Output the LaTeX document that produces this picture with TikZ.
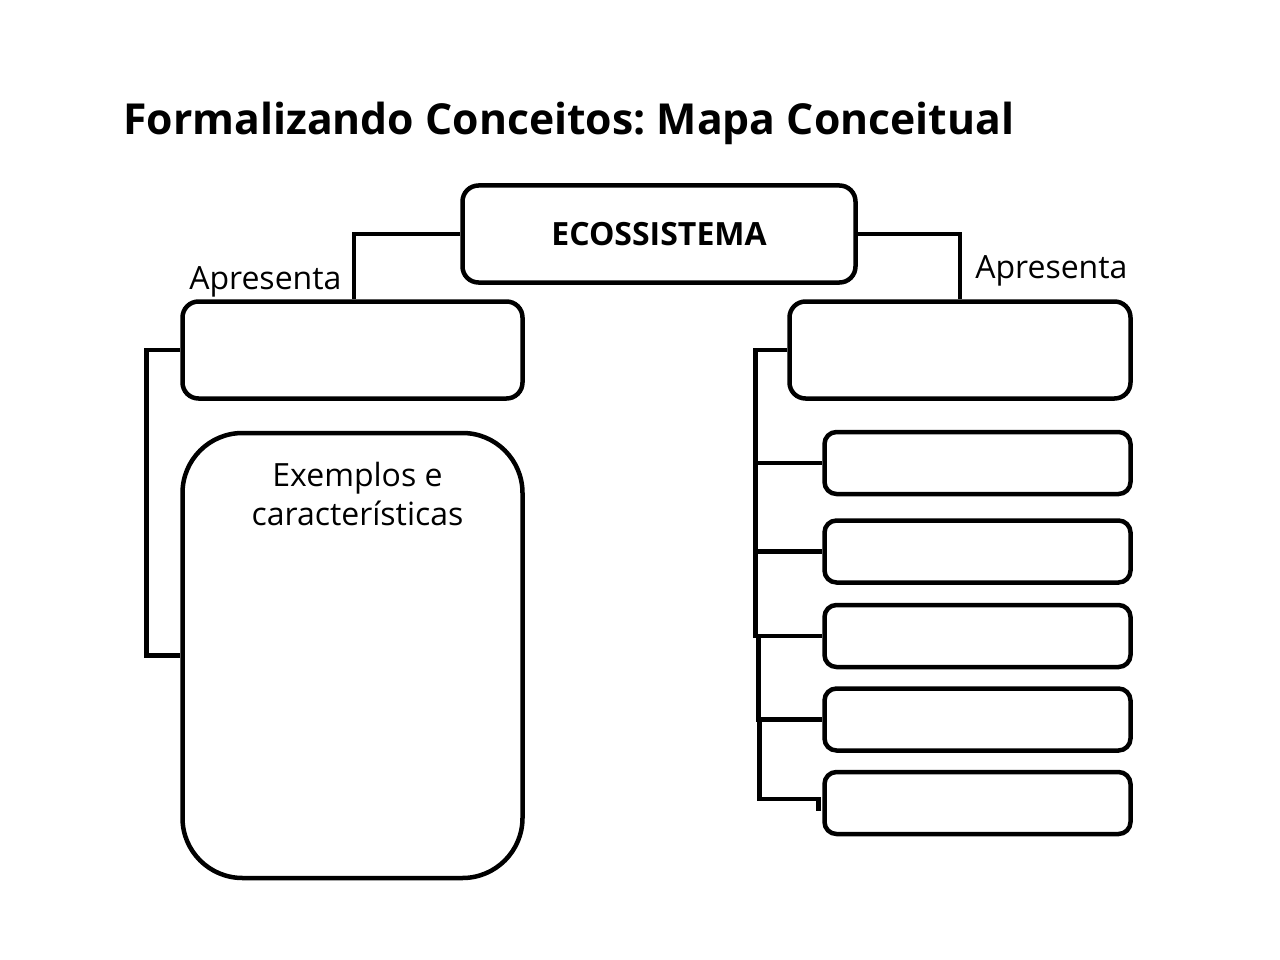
\documentclass[tikz,border=0pt]{standalone}
\usepackage{fontspec}
\setmainfont{Open Sans}
\usetikzlibrary{positioning}

\begin{document}
\frenchspacing
\begin{tikzpicture}[x=1pt,y=-1pt,line width=4.5pt,
    box/.style={draw,rounded corners=16pt,inner sep=0pt},
    wide/.style={box,minimum width=340pt,minimum height=97pt},
    item/.style={box,rounded corners=12pt,minimum width=306pt,minimum height=62pt},
    txt/.style={font=\fontsize{32}{39}\selectfont,inner sep=0pt}]
  \useasboundingbox (0,0) rectangle (1280,960);

  \node[anchor=base west,inner sep=0pt,font=\bfseries\fontsize{42.7}{50}\selectfont] (title) at (121,135) {Formalizando Conceitos: Mapa Conceitual};

  \node[box,minimum width=393pt,minimum height=97pt,font=\bfseries\fontsize{32}{38}\selectfont] (eco) at (659,234) {ECOSSISTEMA};
  \node[wide] (a1) at (352.5,350) {};
  \node[box,rounded corners=60pt,minimum width=340pt,minimum height=445pt] (ex) [below=30pt of a1] {};
  \node[txt,align=center,anchor=north] (exlabel) [below=29pt of ex.north,xshift=5pt] {Exemplos e\\características};
  \node[wide,minimum width=341pt] (b1) at (960,350) {};
  \node[item] (b2) [below left=29pt and 0pt of b1.south east] {};
  \node[item] (b3) [below=22pt of b2] {};
  \node[item] (b4) [below=18pt of b3] {};
  \node[item] (b5) [below=17pt of b4] {};
  \node[item] (b6) [below=17pt of b5] {};

  \node[txt,anchor=base west] (ap1) at (187,290) {Apresenta};
  \node[txt,anchor=base west] (ap2) at (973,278) {Apresenta};

  % ligacoes
  \draw (eco.west) -| ([xshift=1.5pt]a1.north);
  \draw (eco.east) -| (b1.north);
  \draw (a1.west) -- ++(-34,0) |- (ex.west);
  \draw (b1.west) -- ++(-32,0) coordinate (t1) |- (b2.west);
  \draw ([yshift=-2pt]t1 |- b2.west) |- (b3.west);
  \draw (t1 |- b3.west) |- (b4.west);
  \draw ([xshift=3pt]t1 |- b4.west) |- (b5.west);
  \draw ([xshift=4pt]t1 |- b5.west) |- ([xshift=-4pt,yshift=4pt]b6.west) coordinate (t2) -- ++(0,12);
\end{tikzpicture}
\end{document}
